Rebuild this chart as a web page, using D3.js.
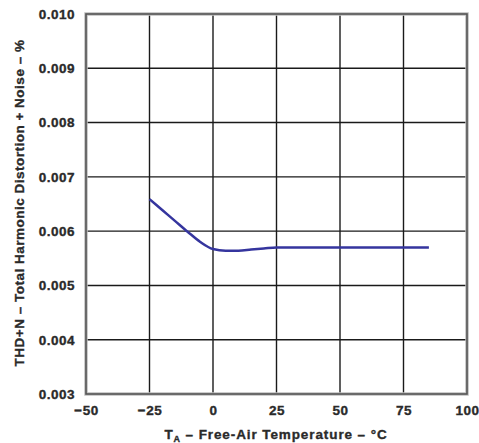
<!DOCTYPE html>
<html>
<head>
<meta charset="utf-8">
<script src="https://cdn.jsdelivr.net/npm/d3@7"></script>
<style>
  html, body { margin: 0; padding: 0; background: #fff; }
  svg { display: block; }
  text { font-family: "Liberation Sans", Arial, sans-serif; font-weight: bold; fill: #2a2a2a; stroke: #2a2a2a; stroke-width: 0.35; }
</style>
</head>
<body>
<svg id="chart" width="479" height="443"></svg>
<script>
// THD+N versus free-air temperature
const temperature = [-25, -20, -15, -10, -5, 0, 5, 10, 15, 20, 25, 35, 45, 55, 65, 75, 85];
const thdN        = [0.00659, 0.00639, 0.00619, 0.00599, 0.00580, 0.00567, 0.00564, 0.00564, 0.00566, 0.00568, 0.00570, 0.00570, 0.00570, 0.00570, 0.00570, 0.00570, 0.00570];

const xTicks = [-50, -25, 0, 25, 50, 75, 100];
const yTicks = [0.003, 0.004, 0.005, 0.006, 0.007, 0.008, 0.009, 0.010];

const svg = d3.select("#chart");
const plot = { left: 86, right: 467, top: 14, bottom: 394 };

const x = d3.scaleLinear().domain([-50, 100]).range([plot.left, plot.right]);
const y = d3.scaleLinear().domain([0.003, 0.010]).range([plot.bottom, plot.top]);

// grid
const grid = svg.append("g");
grid.selectAll("line.v").data(xTicks.slice(1, -1)).join("line")
  .attr("x1", d => x(d)).attr("x2", d => x(d))
  .attr("y1", plot.top).attr("y2", plot.bottom)
  .attr("stroke", "#1a1a1a").attr("stroke-width", 1.4);
grid.selectAll("line.h").data(yTicks.slice(1, -1)).join("line")
  .attr("x1", plot.left).attr("x2", plot.right)
  .attr("y1", d => y(d)).attr("y2", d => y(d))
  .attr("stroke", "#1a1a1a").attr("stroke-width", 1.4);

// frame
svg.append("rect")
  .attr("x", plot.left).attr("y", plot.top)
  .attr("width", plot.right - plot.left).attr("height", plot.bottom - plot.top)
  .attr("fill", "none").attr("stroke", "#bdbdbd").attr("stroke-width", 3.5);
svg.append("rect")
  .attr("x", plot.left).attr("y", plot.top)
  .attr("width", plot.right - plot.left).attr("height", plot.bottom - plot.top)
  .attr("fill", "none").attr("stroke", "#555").attr("stroke-width", 1.6);

// axes (labels only)
const xAxis = d3.axisBottom(x).tickValues(xTicks).tickSize(0).tickPadding(11)
  .tickFormat(d => d < 0 ? "\u2212" + Math.abs(d) : d);
svg.append("g").attr("transform", `translate(0,${plot.bottom})`).call(xAxis)
  .call(g => g.select(".domain").remove())
  .selectAll("text").attr("font-size", 13.5).attr("letter-spacing", 0.5)
  .attr("font-family", null).attr("fill", "#2a2a2a");

const yAxis = d3.axisLeft(y).tickValues(yTicks).tickSize(0).tickPadding(11)
  .tickFormat(d3.format(".3f"));
svg.append("g").attr("transform", `translate(${plot.left},0)`).call(yAxis)
  .call(g => g.select(".domain").remove())
  .selectAll("text").attr("font-size", 13.5).attr("letter-spacing", 0.5)
  .attr("font-family", null).attr("fill", "#2a2a2a");

// curve
const line = d3.line()
  .x((d, i) => x(temperature[i]))
  .y(d => y(d))
  .curve(d3.curveMonotoneX);
svg.append("path")
  .datum(thdN)
  .attr("d", line)
  .attr("fill", "none")
  .attr("stroke", "#35359e")
  .attr("stroke-width", 2.5)
  .attr("stroke-linejoin", "round");

// axis titles
const xt = svg.append("text")
  .attr("x", 276).attr("y", 439)
  .attr("text-anchor", "middle").attr("font-size", 13.5).attr("letter-spacing", 0.9);
xt.append("tspan").text("T");
xt.append("tspan").attr("font-size", 9).attr("dy", 3).text("A");
xt.append("tspan").attr("dy", -3).text(" \u2013 Free-Air Temperature \u2013 \u00B0C");

svg.append("text")
  .attr("transform", `translate(24,203) rotate(-90)`)
  .attr("text-anchor", "middle").attr("font-size", 13.5).attr("letter-spacing", 0.5)
  .text("THD+N \u2013 Total Harmonic Distortion + Noise \u2013 %");
</script>
</body>
</html>
